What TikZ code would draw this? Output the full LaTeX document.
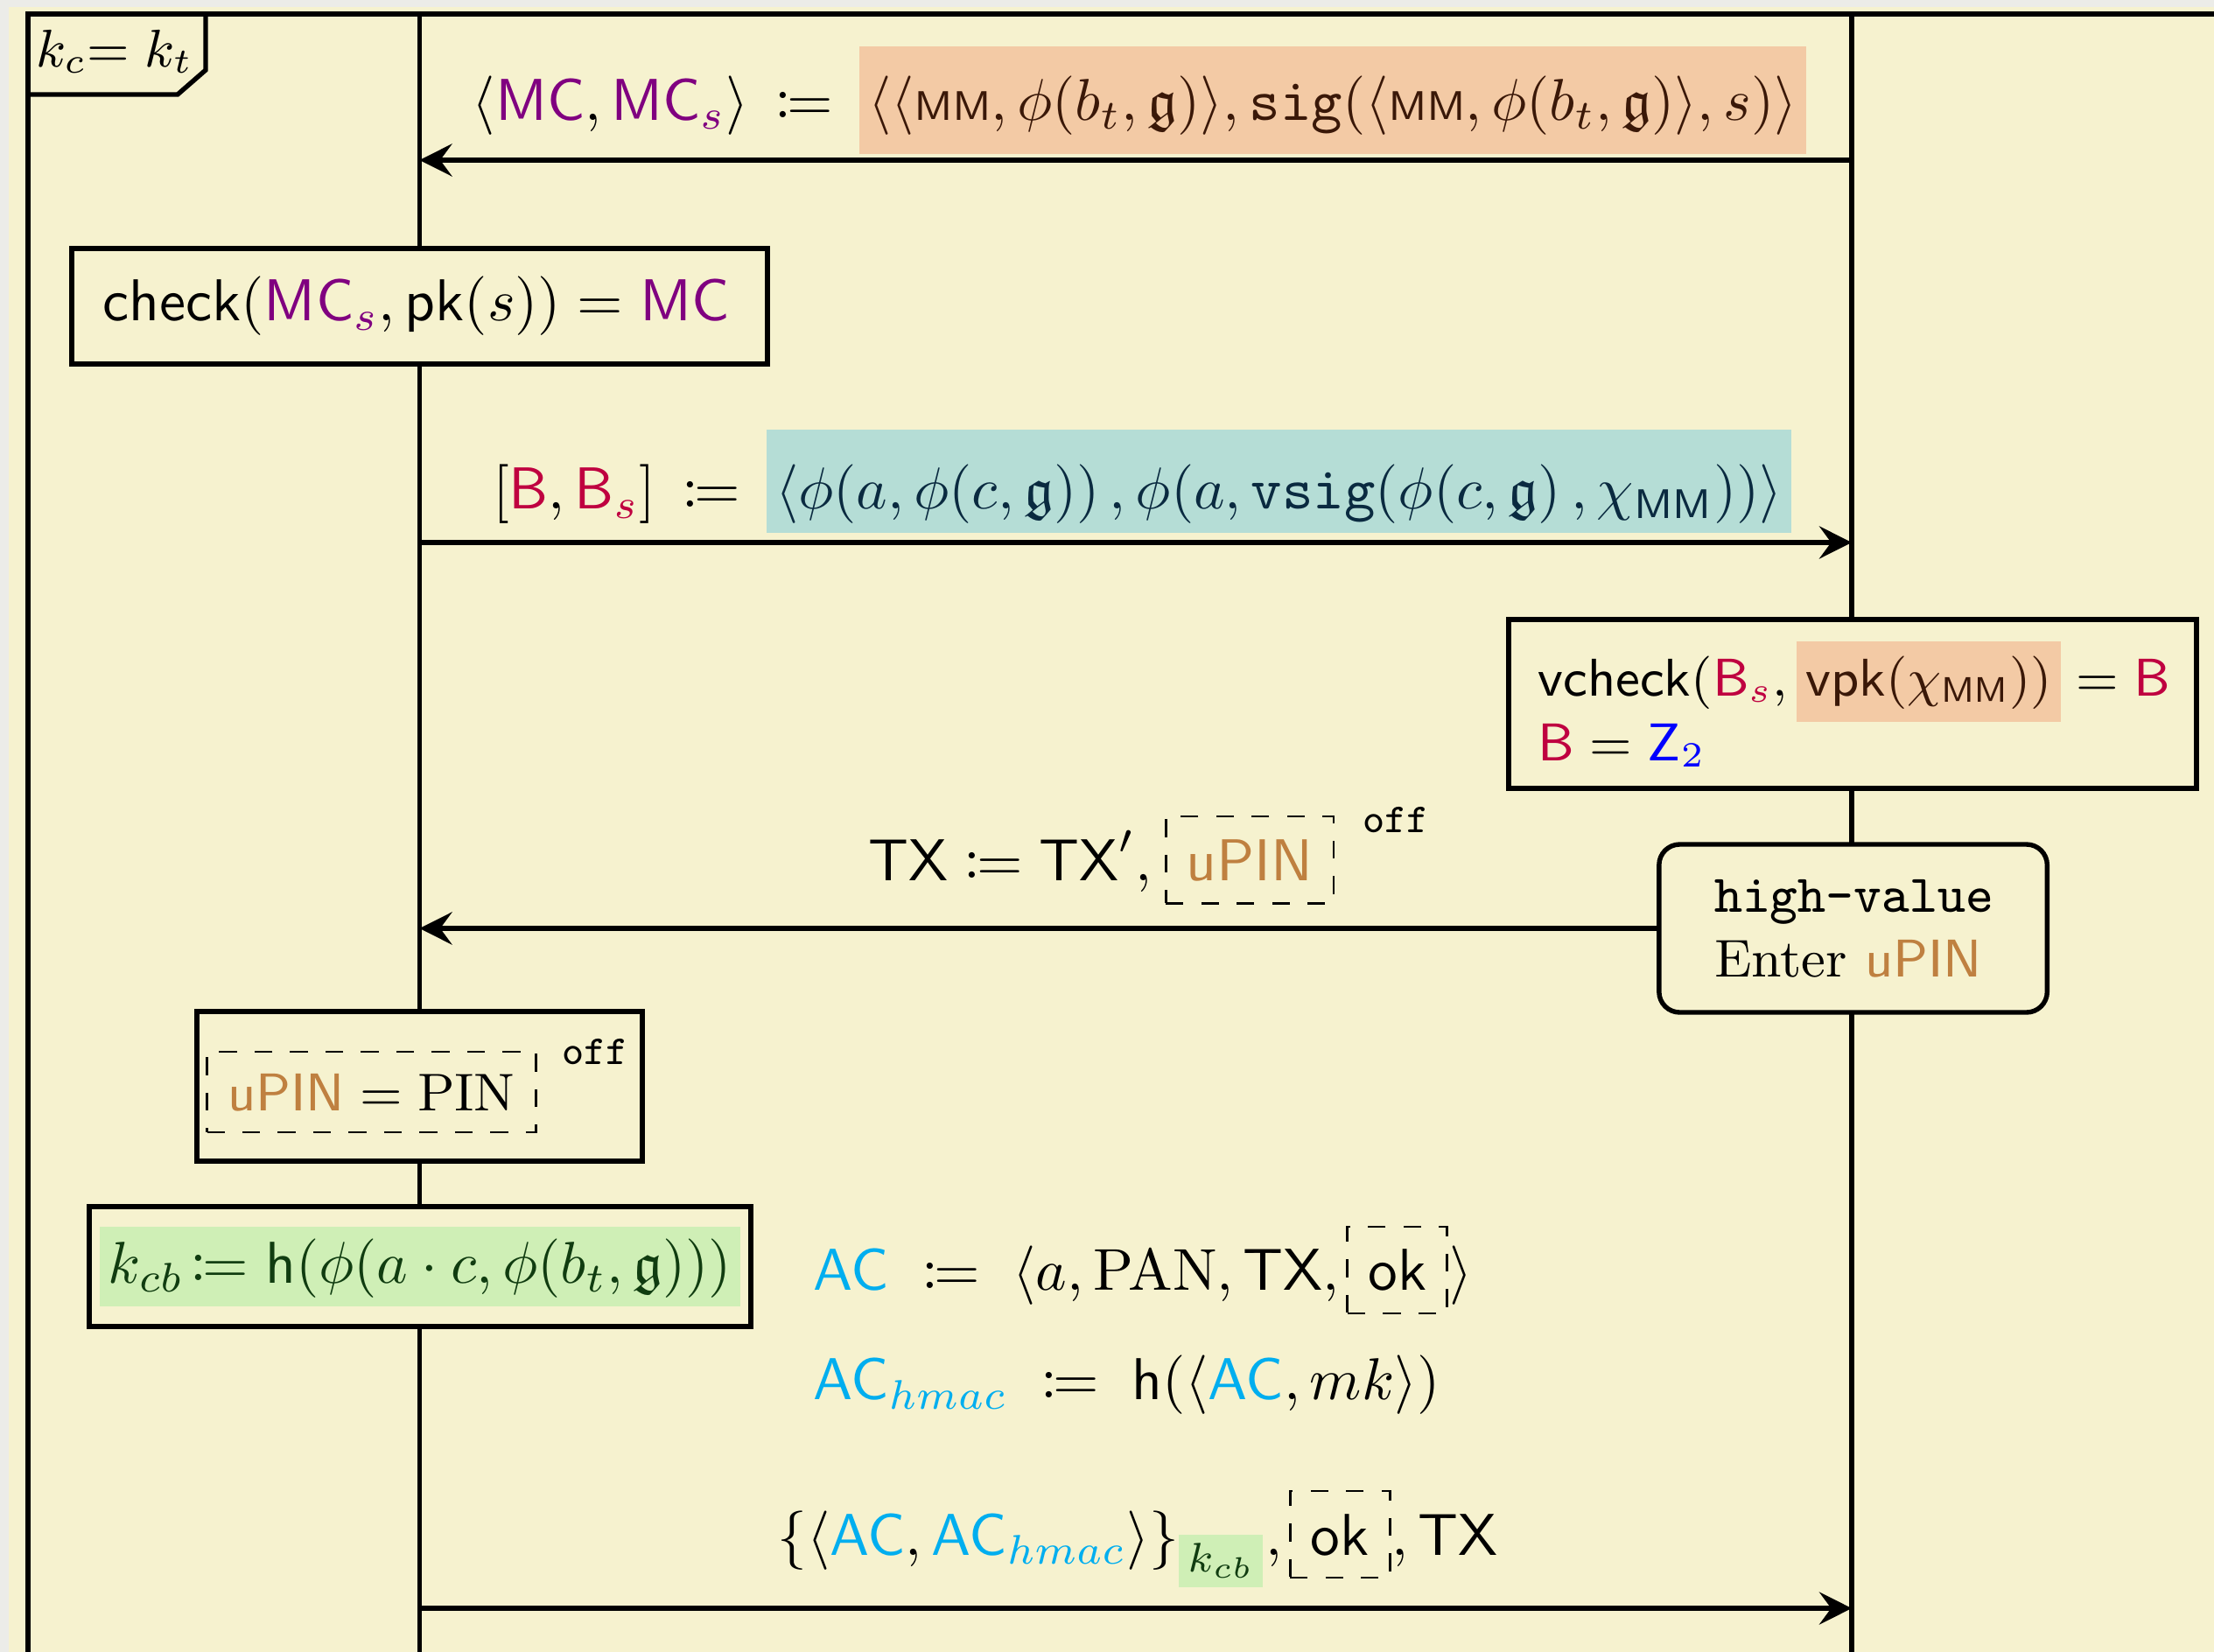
\documentclass[tikz,border=0pt]{standalone}
\usepackage{amsmath,amssymb,mathtools}
\usepackage{tikz}
\usetikzlibrary{positioning,arrows.meta}
\usepackage{xcolor}
\definecolor{paper}{HTML}{F6F2CF}
\definecolor{margin}{HTML}{ECECE8}
\definecolor{mccol}{HTML}{800080}
\definecolor{bcol}{HTML}{BF0040}
\definecolor{zcol}{HTML}{0000FF}
\definecolor{accol}{HTML}{00AEEF}
\definecolor{pincol}{HTML}{BF8040}
\definecolor{hlor}{HTML}{F3CAA5}
\definecolor{hlbl}{HTML}{B5DDD6}
\definecolor{hlgr}{HTML}{CFEFB6}
\definecolor{ortxt}{HTML}{3A1808}
\definecolor{bltxt}{HTML}{0A2A40}
\definecolor{grtxt}{HTML}{103C10}
\newcommand{\MC}{\textcolor{mccol}{\mathsf{MC}}}
\newcommand{\MCs}{\textcolor{mccol}{\mathsf{MC}_s}}
\newcommand{\Bk}{\textcolor{bcol}{\mathsf{B}}}
\newcommand{\Bks}{\textcolor{bcol}{\mathsf{B}_s}}
\newcommand{\AC}{\textcolor{accol}{\mathsf{AC}}}
\newcommand{\ACh}{\textcolor{accol}{\mathsf{AC}_{hmac}}}
\newcommand{\MM}{\mathsf{\scriptstyle MM}}
\newcommand{\upin}{\textcolor{pincol}{\mathsf{uPIN}}}
% highlight: colour, height, depth, content
\newcommand{\hl}[4]{{\setlength{\fboxsep}{1.5pt}\colorbox{#1}{\rule[-#3]{0pt}{\dimexpr#2+#3\relax}#4}}}

\begin{document}
\begin{tikzpicture}[
          life/.style={thick},
          msg/.style={thick,-{Stealth[length=5.5pt,width=5.5pt,inset=2pt]}},
          actbox/.style={draw,thick,fill=paper,inner sep=0pt},
          optbox/.style={draw,thin,dashed,inner xsep=3.5pt,inner ysep=0pt,minimum height=0.516cm},
          offlbl/.style={font=\scriptsize\ttfamily,inner sep=0pt,anchor=base west},
          lbl/.style={inner sep=0pt,anchor=base west}
        ]
        \useasboundingbox (0,0) rectangle (13.177,-9.833);
        \fill[margin] (0,0) rectangle (13.177,-9.833);
        \fill[paper] (0.052,-0.042) rectangle (13.177,-9.833);
        % frame and its tab
        \draw[thick] (0.167,-9.9) -- (0.167,-0.083) -- (13.3,-0.083);
        \draw[thick] (0.167,-0.5625) -- (1.057,-0.5625) -- (1.224,-0.417) -- (1.224,-0.083);
        \node[anchor=base,font=\small] (frm) at (0.682,-0.401) {$k_c{=}\;k_t$};
        % lifelines
        \coordinate (cl) at (2.497,-0.083);
        \coordinate (tr) at (11.021,-0.083);
        \coordinate (bot) at (0,-9.9);
        \draw[life] (cl) -- (cl |- bot);
        \draw[life] (tr) -- (tr |- bot);
        \coordinate (y1) at (0,-0.953);
        \coordinate (y2) at (0,-3.229);
        \coordinate (y4) at (0,-9.573);

        \draw[msg] (tr |- y1) -- (cl |- y1);
        \node[inner sep=0pt,anchor=base] (m1) at (6.781,-0.714) {$\langle \MC, \MCs\rangle \,\coloneqq\, \hl{hlor}{10.9pt}{4.3pt}{$\color{ortxt}\langle\langle \MM, \phi(b_t,\mathfrak{g})\rangle, \mathtt{sig}(\langle \MM, \phi(b_t,\mathfrak{g})\rangle, s)\rangle$}$};

        \node[actbox, text width=3.766cm, inner xsep=0.1875cm, minimum height=0.6875cm, align=left] (chk) at (2.497,-1.823) {$\mathsf{check}(\MCs, \mathsf{pk}(s)) = \MC$};

        \draw[msg] (cl |- y2) -- (tr |- y2);
        \node[inner sep=0pt,anchor=base] (m2) at (6.797,-3.031) {$[\Bk, \Bks] \,\coloneqq\, \hl{hlbl}{12pt}{2.5pt}{$\color{bltxt}\langle \phi(a, \phi(c,\mathfrak{g}))\,, \phi(a, \mathtt{vsig}(\phi(c,\mathfrak{g})\,, \chi_{\MM}))\rangle$}$};

        \node[actbox, text width=3.74cm, inner xsep=0.177cm, minimum height=1.005cm, align=left, font=\small] (vchk) at (11.026,-4.190) {\mbox{$\mathsf{vcheck}(\Bks, \hl{hlor}{7.8pt}{2.9pt}{$\color{ortxt}\mathsf{vpk}(\chi_{\MM}))$} = \Bk$}\\ $\Bk = \textcolor{zcol}{\mathsf{Z}_2}$};

        \node[actbox, rounded corners=3.5pt, text width=1.65cm, inner xsep=0.33cm, minimum height=1.0cm, align=left, font=\small] (hv) at (11.029,-5.526) {\texttt{high-value}\\Enter \textcolor{pincol}{\textsf{uPIN}}};
        \draw[msg] (hv.west) -- (hv.west -| cl);
        \node[lbl] (tx) at (5.161,-5.240) {$\mathsf{TX} \coloneqq \mathsf{TX}',$};
        \node[optbox, anchor=base west] (txpin) at ([xshift=2pt]tx.base east) {$\upin$};
        \node[offlbl] (txoff) at ([xshift=0.16cm,yshift=-0.104cm]txpin.north east) {off};

        \node[actbox, minimum width=2.651cm, minimum height=0.891cm] (pinchk) at (2.497,-6.466) {};
        \node[optbox, minimum width=1.891cm, minimum height=0.479cm, font=\small] (pin) at (2.211,-6.5) {$\upin = \mathrm{PIN}$};
        \node[offlbl] (pinoff) at ([xshift=0.14cm,yshift=-0.083cm]pin.north east) {off};

        \node[actbox, minimum width=3.938cm, minimum height=0.714cm] (kcb) at (2.500,-7.539) {\hl{hlgr}{8pt}{2.5pt}{$\color{grtxt}k_{cb}\!\coloneqq \mathsf{h}(\phi(a\cdot c, \phi(b_t,\mathfrak{g})))$}};

        \node[lbl] (ac) at (4.833,-7.682) {$\AC \;\coloneqq\; \langle a, \mathrm{PAN}, \mathsf{TX},$};
        \node[optbox, anchor=base west] (acok) at ([xshift=1pt]ac.base east) {$\mathsf{ok}$};
        \node[lbl] (acend) at (acok.base east) {$\rangle$};
        \node[lbl] (hmac) at (4.833,-8.333) {$\ACh \;\coloneqq\; \mathsf{h}(\langle \AC, mk\rangle)$};

        \draw[msg] (cl |- y4) -- (tr |- y4);
        \node[lbl] (m4) at (4.620,-9.255) {$\{\langle \AC, \ACh\rangle\}_{\hl{hlgr}{0pt}{0pt}{$\color{grtxt}\scriptstyle k_{cb}$}},$};
        \node[optbox, anchor=base west] (m4ok) at ([xshift=1pt]m4.base east) {$\mathsf{ok}$};
        \node[lbl] (m4tx) at (m4ok.base east) {$, \mathsf{TX}$};
      \end{tikzpicture}
\end{document}
